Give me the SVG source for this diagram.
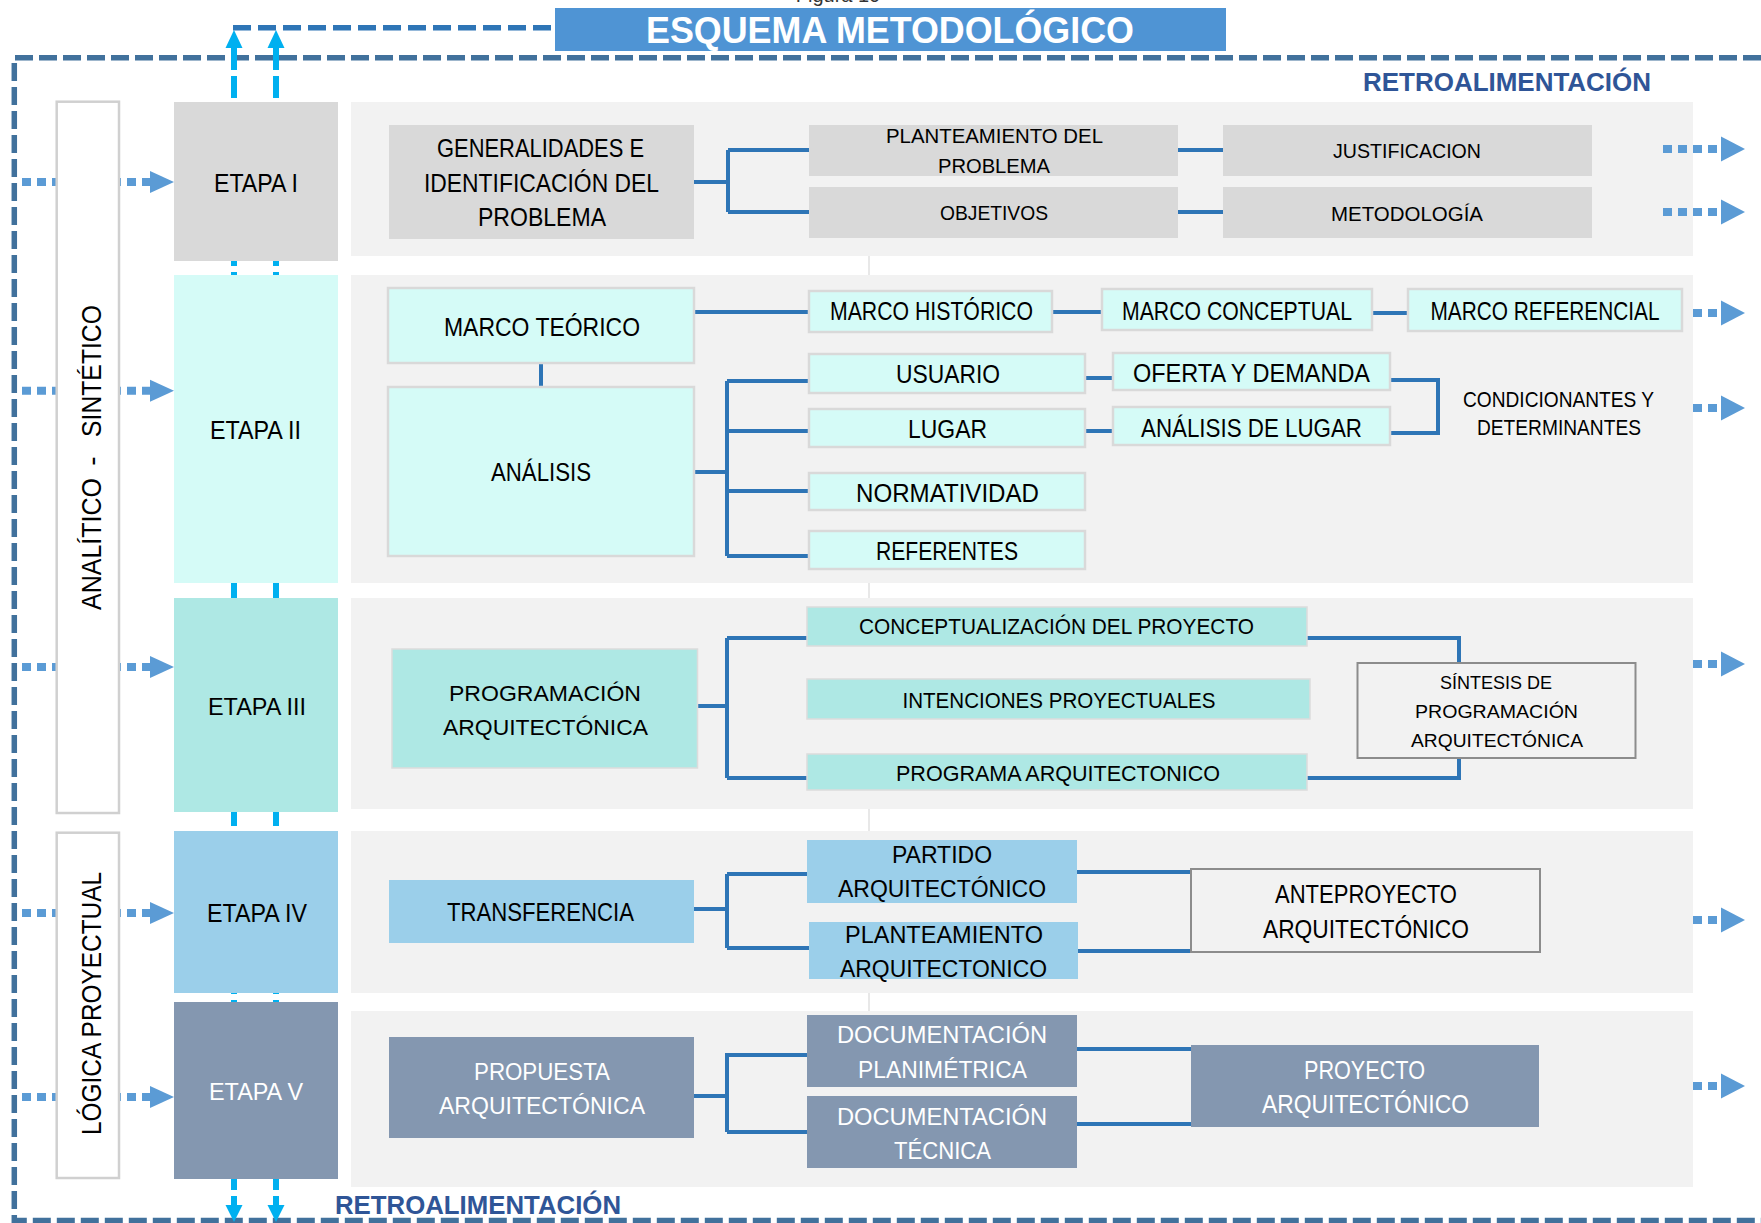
<svg xmlns="http://www.w3.org/2000/svg" width="1761" height="1223" viewBox="0 0 1761 1223">
  <defs>
    <style>
      .t { font-family: 'Liberation Sans', Arial, sans-serif; font-size: 25px; fill: #000; text-anchor: middle; }
      .w { fill: #fff; }
      .s23 { font-size: 23px; }
      .s22 { font-size: 22px; }
      .s21 { font-size: 21px; }
      .s19 { font-size: 19px; }
      .retro { font-family: 'Liberation Sans', Arial, sans-serif; font-size: 25px; font-weight: bold; fill: #2f5597; text-anchor: middle; }
      .vlab { font-family: 'Liberation Sans', Arial, sans-serif; font-size: 28px; fill: #000; text-anchor: middle; }
      .panel { fill: #f2f2f2; }
      .lab { fill: #fff; stroke: #d0d0d0; stroke-width: 2.5; }
      .e1 { fill: #d9d9d9; }
      .e2 { fill: #d5fbf7; }
      .e2b { fill: #d5fbf7; stroke: #d9d9d9; stroke-width: 2.5; }
      .e3 { fill: #aee8e4; }
      .e3b { fill: #aee8e4; stroke: #dcdcdc; stroke-width: 1.5; }
      .e4 { fill: #9bcfea; }
      .e5 { fill: #8497b0; }
      .outline { fill: #f2f2f2; stroke: #8c8c8c; stroke-width: 2; }
      .conn { fill: none; stroke: #2e75b6; stroke-width: 4; }
      .dot { fill: none; stroke: #5b9bd5; stroke-width: 8; stroke-dasharray: 9 6; }
      .tri { fill: #5b9bd5; }
      .cyan { fill: none; stroke: #00b0f0; stroke-width: 6; stroke-dasharray: 22 6; }
      .cyanhead { fill: #00b0f0; }
    </style>
  </defs>

  <rect width="1761" height="1223" fill="#fff"/>

  <!-- caption, cut off by the top edge -->
  <text x="838" y="2" font-family="'Liberation Sans', Arial, sans-serif" font-size="20" fill="#333" text-anchor="middle">Figura 10</text>

  <!-- faint vertical guide between the content panels -->
  <line x1="869" y1="256" x2="869" y2="1011" stroke="#d9d9d9" stroke-width="1.2"/>

  <!-- feedback loop: outer dashed frame and the return line to the title -->
  <g id="feedback">
    <path d="M1761,57.7 H14.3 V1220.5 H1761" fill="none" stroke="#41719c" stroke-width="5.5" stroke-dasharray="18 6"/>
    <path d="M233,27.7 H555" fill="none" stroke="#2e75b6" stroke-width="5.5" stroke-dasharray="18 7"/>
    <path class="cyan" d="M234,48 V1205"/>
    <path class="cyan" d="M276,48 V1205"/>
    <polygon class="cyanhead" points="225.5,48 234,30 242.5,48"/>
    <polygon class="cyanhead" points="267.5,48 276,30 284.5,48"/>
    <polygon class="cyanhead" points="225.5,1205 234,1222 242.5,1205"/>
    <polygon class="cyanhead" points="267.5,1205 276,1222 284.5,1205"/>
    <text class="retro" x="1507" y="91" textLength="288" lengthAdjust="spacingAndGlyphs">RETROALIMENTACIÓN</text>
    <text class="retro" x="478" y="1214" textLength="286" lengthAdjust="spacingAndGlyphs">RETROALIMENTACIÓN</text>
  </g>

  <!-- title -->
  <g id="title">
    <rect x="555" y="8" width="671" height="43" fill="#4f94d4"/>
    <text x="890" y="43" font-family="'Liberation Sans', Arial, sans-serif" font-size="36" font-weight="bold" fill="#fff" text-anchor="middle" textLength="488" lengthAdjust="spacingAndGlyphs">ESQUEMA METODOLÓGICO</text>
  </g>

  <!-- stage input arrows (left) -->
  <g id="input-arrows">
    <path class="dot" d="M22,182 H150 M22,390.7 H150 M22,667 H150 M22,913 H150 M22,1097 H150"/>
    <polygon class="tri" points="150,171 174,182 150,193"/>
    <polygon class="tri" points="150,379.7 174,390.7 150,401.7"/>
    <polygon class="tri" points="150,656 174,667 150,678"/>
    <polygon class="tri" points="150,902 174,913 150,924"/>
    <polygon class="tri" points="150,1086 174,1097 150,1108"/>
  </g>

  <!-- vertical approach labels -->
  <g id="label-analitico">
    <rect class="lab" x="56.7" y="101.7" width="62.3" height="711.3"/>
    <text class="vlab" transform="translate(100.7,544) rotate(-90)" x="0" y="0" textLength="132" lengthAdjust="spacingAndGlyphs">ANALÍTICO</text>
    <text class="vlab" transform="translate(100.7,461) rotate(-90)" x="0" y="0">-</text>
    <text class="vlab" transform="translate(100.7,371) rotate(-90)" x="0" y="0" textLength="132" lengthAdjust="spacingAndGlyphs">SINTÉTICO</text>
  </g>
  <g id="label-logica">
    <rect class="lab" x="56.7" y="832.7" width="62.3" height="345.3"/>
    <text class="vlab" transform="translate(100.7,1003.5) rotate(-90)" x="0" y="0" textLength="263" lengthAdjust="spacingAndGlyphs">LÓGICA PROYECTUAL</text>
  </g>

  <!-- content panels -->
  <g id="panels">
    <rect class="panel" x="351" y="102" width="1342" height="154"/>
    <rect class="panel" x="351" y="275" width="1342" height="308"/>
    <rect class="panel" x="351" y="598" width="1342" height="211"/>
    <rect class="panel" x="351" y="831" width="1342" height="162"/>
    <rect class="panel" x="351" y="1011" width="1342" height="176"/>
  </g>

  <!-- stages -->
  <g id="etapa-1">
    <rect class="e1" x="174" y="102" width="164" height="159"/>
    <text class="t" x="256" y="192" textLength="84" lengthAdjust="spacingAndGlyphs">ETAPA I</text>
  </g>
  <g id="etapa-2">
    <rect class="e2" x="174" y="275" width="164" height="308"/>
    <text class="t" x="255.5" y="439" textLength="91" lengthAdjust="spacingAndGlyphs">ETAPA II</text>
  </g>
  <g id="etapa-3">
    <rect class="e3" x="174" y="598" width="164" height="214"/>
    <text class="t s23" x="257" y="715" textLength="98" lengthAdjust="spacingAndGlyphs">ETAPA III</text>
  </g>
  <g id="etapa-4">
    <rect class="e4" x="174" y="831" width="164" height="162"/>
    <text class="t" x="257" y="922" textLength="100" lengthAdjust="spacingAndGlyphs">ETAPA IV</text>
  </g>
  <g id="etapa-5">
    <rect class="e5" x="174" y="1002" width="164" height="177"/>
    <text class="t s23 w" x="256" y="1100" textLength="94" lengthAdjust="spacingAndGlyphs">ETAPA V</text>
  </g>

  <!-- connectors -->
  <g id="connectors">
    <!-- etapa I -->
    <path class="conn" d="M694,182 H728 M728,150 V212 M728,150 H809 M728,212 H809 M1178,150 H1223 M1178,212 H1223"/>
    <!-- etapa II -->
    <path class="conn" d="M541,363 V387 M694,312 H809 M1052,312 H1102 M1372,313 H1408"/>
    <path class="conn" d="M694,472 H727 M727,381 V556 M727,381 H809 M727,431 H809 M727,491 H809 M727,556 H809"/>
    <path class="conn" d="M1085,378 H1113 M1085,431 H1113 M1390,380 H1438 V433 H1390"/>
    <!-- etapa III -->
    <path class="conn" d="M697,706 H727 M727,638 V778 M727,638 H807 M727,778 H807 M1307,638 H1459 V663 M1307,778 H1459 V758"/>
    <!-- etapa IV -->
    <path class="conn" d="M694,909 H727 M727,874 V948 M727,874 H807 M727,948 H809 M1077,872 H1191 M1078,951 H1191"/>
    <!-- etapa V -->
    <path class="conn" d="M694,1096 H727 M727,1053 V1132 M727,1055 H807 M727,1132 H807 M1077,1049 H1191 M1077,1124 H1191"/>
  </g>

  <!-- output arrows (right) -->
  <g id="output-arrows">
    <path class="dot" d="M1663,149 H1722 M1663,212 H1722 M1693,313 H1722 M1693,408 H1722 M1693,664 H1722 M1693,920 H1722 M1693,1086 H1722"/>
    <polygon class="tri" points="1721,136.5 1745,149 1721,161.5"/>
    <polygon class="tri" points="1721,199.5 1745,212 1721,224.5"/>
    <polygon class="tri" points="1721,300.5 1745,313 1721,325.5"/>
    <polygon class="tri" points="1721,395.5 1745,408 1721,420.5"/>
    <polygon class="tri" points="1721,651.5 1745,664 1721,676.5"/>
    <polygon class="tri" points="1721,907.5 1745,920 1721,932.5"/>
    <polygon class="tri" points="1721,1073.5 1745,1086 1721,1098.5"/>
  </g>

  <!-- ETAPA I nodes -->
  <g id="generalidades">
    <rect class="e1" x="389" y="125" width="305" height="114"/>
    <text class="t" x="540.5" y="157" textLength="207" lengthAdjust="spacingAndGlyphs">GENERALIDADES E</text>
    <text class="t" x="541.5" y="192" textLength="235" lengthAdjust="spacingAndGlyphs">IDENTIFICACIÓN DEL</text>
    <text class="t" x="542" y="226" textLength="128" lengthAdjust="spacingAndGlyphs">PROBLEMA</text>
  </g>
  <g id="planteamiento-problema">
    <rect class="e1" x="809" y="125" width="369" height="51"/>
    <text class="t s21" x="994.5" y="143" textLength="217" lengthAdjust="spacingAndGlyphs">PLANTEAMIENTO DEL</text>
    <text class="t s21" x="994" y="173" textLength="112" lengthAdjust="spacingAndGlyphs">PROBLEMA</text>
  </g>
  <g id="objetivos">
    <rect class="e1" x="809" y="187" width="369" height="51"/>
    <text class="t s21" x="994" y="220" textLength="108" lengthAdjust="spacingAndGlyphs">OBJETIVOS</text>
  </g>
  <g id="justificacion">
    <rect class="e1" x="1223" y="125" width="369" height="51"/>
    <text class="t s21" x="1407" y="158" textLength="148" lengthAdjust="spacingAndGlyphs">JUSTIFICACION</text>
  </g>
  <g id="metodologia">
    <rect class="e1" x="1223" y="187" width="369" height="51"/>
    <text class="t s21" x="1407" y="221" textLength="152" lengthAdjust="spacingAndGlyphs">METODOLOGÍA</text>
  </g>

  <!-- ETAPA II nodes -->
  <g id="marco-teorico">
    <rect class="e2b" x="388" y="288" width="306" height="75"/>
    <text class="t" x="542" y="336" textLength="196" lengthAdjust="spacingAndGlyphs">MARCO TEÓRICO</text>
  </g>
  <g id="analisis">
    <rect class="e2b" x="388" y="387" width="306" height="169"/>
    <text class="t" x="541" y="481" textLength="100" lengthAdjust="spacingAndGlyphs">ANÁLISIS</text>
  </g>
  <g id="marco-historico">
    <rect class="e2b" x="809" y="291" width="243" height="41"/>
    <text class="t" x="931.5" y="320" textLength="203" lengthAdjust="spacingAndGlyphs">MARCO HISTÓRICO</text>
  </g>
  <g id="marco-conceptual">
    <rect class="e2b" x="1102" y="289" width="270" height="41"/>
    <text class="t" x="1237" y="320" textLength="230" lengthAdjust="spacingAndGlyphs">MARCO CONCEPTUAL</text>
  </g>
  <g id="marco-referencial">
    <rect class="e2b" x="1408" y="289" width="274" height="42"/>
    <text class="t" x="1545" y="320" textLength="229" lengthAdjust="spacingAndGlyphs">MARCO REFERENCIAL</text>
  </g>
  <g id="usuario">
    <rect class="e2b" x="809" y="354" width="276" height="39"/>
    <text class="t" x="948" y="383" textLength="104" lengthAdjust="spacingAndGlyphs">USUARIO</text>
  </g>
  <g id="lugar">
    <rect class="e2b" x="809" y="409" width="276" height="38"/>
    <text class="t" x="947.5" y="438" textLength="79" lengthAdjust="spacingAndGlyphs">LUGAR</text>
  </g>
  <g id="normatividad">
    <rect class="e2b" x="809" y="473" width="276" height="37"/>
    <text class="t" x="947.5" y="502" textLength="183" lengthAdjust="spacingAndGlyphs">NORMATIVIDAD</text>
  </g>
  <g id="referentes">
    <rect class="e2b" x="809" y="531" width="276" height="38"/>
    <text class="t" x="947" y="560" textLength="142" lengthAdjust="spacingAndGlyphs">REFERENTES</text>
  </g>
  <g id="oferta-demanda">
    <rect class="e2b" x="1113" y="353" width="277" height="37"/>
    <text class="t" x="1251.5" y="382" textLength="237" lengthAdjust="spacingAndGlyphs">OFERTA Y DEMANDA</text>
  </g>
  <g id="analisis-lugar">
    <rect class="e2b" x="1113" y="407" width="277" height="38"/>
    <text class="t" x="1251.5" y="437" textLength="221" lengthAdjust="spacingAndGlyphs">ANÁLISIS DE LUGAR</text>
  </g>
  <g id="condicionantes">
    <text class="t s22" x="1558.5" y="407" textLength="191" lengthAdjust="spacingAndGlyphs">CONDICIONANTES Y</text>
    <text class="t s22" x="1559" y="435" textLength="164" lengthAdjust="spacingAndGlyphs">DETERMINANTES</text>
  </g>

  <!-- ETAPA III nodes -->
  <g id="programacion-arquitectonica">
    <rect class="e3b" x="392" y="649" width="305.5" height="119"/>
    <text class="t s22" x="545" y="701" textLength="192" lengthAdjust="spacingAndGlyphs">PROGRAMACIÓN</text>
    <text class="t s22" x="545.5" y="735" textLength="205" lengthAdjust="spacingAndGlyphs">ARQUITECTÓNICA</text>
  </g>
  <g id="conceptualizacion">
    <rect class="e3b" x="807" y="607" width="500" height="39"/>
    <text class="t s22" x="1056.5" y="634" textLength="395" lengthAdjust="spacingAndGlyphs">CONCEPTUALIZACIÓN DEL PROYECTO</text>
  </g>
  <g id="intenciones">
    <rect class="e3b" x="807" y="679" width="503" height="40"/>
    <text class="t s22" x="1059" y="708" textLength="313" lengthAdjust="spacingAndGlyphs">INTENCIONES PROYECTUALES</text>
  </g>
  <g id="programa-arquitectonico">
    <rect class="e3b" x="807" y="754" width="500" height="36"/>
    <text class="t s22" x="1058" y="781" textLength="324" lengthAdjust="spacingAndGlyphs">PROGRAMA ARQUITECTONICO</text>
  </g>
  <g id="sintesis">
    <rect class="outline" x="1357.5" y="663" width="278" height="95" stroke="#a6a6a6"/>
    <text class="t s19" x="1496" y="689" textLength="112" lengthAdjust="spacingAndGlyphs">SÍNTESIS DE</text>
    <text class="t s19" x="1496.5" y="718" textLength="163" lengthAdjust="spacingAndGlyphs">PROGRAMACIÓN</text>
    <text class="t s19" x="1497" y="747" textLength="172" lengthAdjust="spacingAndGlyphs">ARQUITECTÓNICA</text>
  </g>

  <!-- ETAPA IV nodes -->
  <g id="transferencia">
    <rect class="e4" x="389" y="880" width="305" height="63"/>
    <text class="t" x="540.5" y="921" textLength="187" lengthAdjust="spacingAndGlyphs">TRANSFERENCIA</text>
  </g>
  <g id="partido">
    <rect class="e4" x="807" y="840" width="270" height="63"/>
    <text class="t s23" x="942" y="863" textLength="100" lengthAdjust="spacingAndGlyphs">PARTIDO</text>
    <text class="t s23" x="942" y="897" textLength="208" lengthAdjust="spacingAndGlyphs">ARQUITECTÓNICO</text>
  </g>
  <g id="planteamiento-arquitectonico">
    <rect class="e4" x="809" y="922" width="269" height="57"/>
    <text class="t s23" x="944" y="943" textLength="198" lengthAdjust="spacingAndGlyphs">PLANTEAMIENTO</text>
    <text class="t s23" x="943.5" y="977" textLength="207" lengthAdjust="spacingAndGlyphs">ARQUITECTONICO</text>
  </g>
  <g id="anteproyecto">
    <rect class="outline" x="1191" y="869" width="349" height="83"/>
    <text class="t" x="1366" y="903" textLength="182" lengthAdjust="spacingAndGlyphs">ANTEPROYECTO</text>
    <text class="t" x="1366" y="938" textLength="206" lengthAdjust="spacingAndGlyphs">ARQUITECTÓNICO</text>
  </g>

  <!-- ETAPA V nodes -->
  <g id="propuesta">
    <rect class="e5" x="389" y="1037" width="305" height="101"/>
    <text class="t s23 w" x="542" y="1080" textLength="136" lengthAdjust="spacingAndGlyphs">PROPUESTA</text>
    <text class="t s23 w" x="542" y="1114" textLength="206" lengthAdjust="spacingAndGlyphs">ARQUITECTÓNICA</text>
  </g>
  <g id="documentacion-planimetrica">
    <rect class="e5" x="807" y="1015" width="270" height="72"/>
    <text class="t s23 w" x="942" y="1043" textLength="210" lengthAdjust="spacingAndGlyphs">DOCUMENTACIÓN</text>
    <text class="t s23 w" x="942.5" y="1078" textLength="169" lengthAdjust="spacingAndGlyphs">PLANIMÉTRICA</text>
  </g>
  <g id="documentacion-tecnica">
    <rect class="e5" x="807" y="1096" width="270" height="72"/>
    <text class="t s23 w" x="942" y="1125" textLength="210" lengthAdjust="spacingAndGlyphs">DOCUMENTACIÓN</text>
    <text class="t s23 w" x="942.5" y="1159" textLength="97" lengthAdjust="spacingAndGlyphs">TÉCNICA</text>
  </g>
  <g id="proyecto">
    <rect class="e5" x="1191" y="1045" width="348" height="82"/>
    <text class="t w" x="1364.5" y="1079" textLength="121" lengthAdjust="spacingAndGlyphs">PROYECTO</text>
    <text class="t w" x="1365.5" y="1113" textLength="207" lengthAdjust="spacingAndGlyphs">ARQUITECTÓNICO</text>
  </g>
</svg>
